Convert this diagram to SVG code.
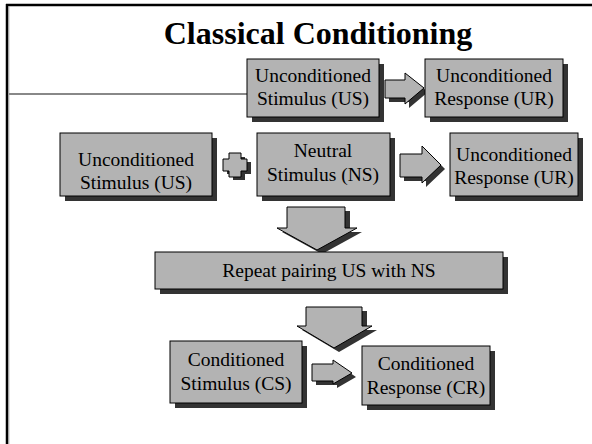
<svg xmlns="http://www.w3.org/2000/svg" width="592" height="444" viewBox="0 0 592 444">
<defs>
<style>
.box{fill:#b3b3b3;stroke:#000;stroke-width:1}
.sh{fill:#333}
.t{font-family:"Liberation Serif","Times New Roman",serif;font-size:19.5px;fill:#000;text-anchor:middle}
.title{font-family:"Liberation Serif","Times New Roman",serif;font-size:32px;font-weight:bold;fill:#000;text-anchor:middle}
</style>
</defs>
<rect width="592" height="444" fill="#fff"/>
<g id="frame">
<line x1="6" y1="5" x2="592" y2="5" stroke="#000" stroke-width="2.5"/>
<line x1="7" y1="4" x2="7" y2="444" stroke="#000" stroke-width="2.5"/>
<line x1="8.8" y1="6.5" x2="8.8" y2="444" stroke="#999" stroke-width="1"/>
<line x1="9" y1="94" x2="247" y2="94" stroke="#888" stroke-width="2"/>
</g>
<text class="title" x="318" y="44">Classical Conditioning</text>
<g id="connectors">
<g id="arrow-top">
<polygon class="sh" points="389,84 409,84 409,77 428,92 409,108 409,102 389,102"/>
<polygon class="box" points="385,80 405,80 405,73 424,88 405,104 405,98 385,98"/>
</g>
<g id="plus">
<polygon class="sh" points="233,157 245,157 245,162 251,162 251,174 245,174 245,180 233,180 233,174 227,174 227,162 233,162"/>
<polygon class="box" points="229,153 241,153 241,159 247,159 247,171 241,171 241,177 229,177 229,171 223,171 223,159 229,159"/>
</g>
<g id="arrow-row2">
<polygon class="sh" points="404,158 426,158 426,150 445,169 426,187 426,181 404,181"/>
<polygon class="box" points="400,154 422,154 422,146 441,165 422,183 422,177 400,177"/>
</g>
<g id="arrow-down1">
<polygon class="sh" points="292,211 350,211 350,232 362,232 322,254 282,232 292,232"/>
<polygon class="box" points="287,207 345,207 345,228 357,228 317,250 277,228 287,228"/>
</g>
<g id="arrow-down2">
<polygon class="sh" points="311,311 367,311 367,330 377,330 339,352 302,330 311,330"/>
<polygon class="box" points="306,307 362,307 362,326 372,326 334,348 297,326 306,326"/>
</g>
<g id="arrow-bottom">
<polygon class="sh" points="316,368 337,368 337,364 356,377 337,388 337,385 316,385"/>
<polygon class="box" points="312,364 333,364 333,360 352,373 333,384 333,381 312,381"/>
</g>
</g>
<g id="us-top">
<rect class="sh" x="252" y="64" width="132" height="58"/>
<rect class="box" x="247" y="59" width="132" height="58"/>
<text class="t" x="313" y="82">Unconditioned</text>
<text class="t" x="313" y="105">Stimulus (US)</text>
</g>
<g id="ur-top">
<rect class="sh" x="430" y="64" width="138" height="58"/>
<rect class="box" x="425" y="59" width="138" height="58"/>
<text class="t" x="494" y="82">Unconditioned</text>
<text class="t" x="494" y="105">Response (UR)</text>
</g>
<g id="us">
<rect class="sh" x="65" y="138" width="152" height="63"/>
<rect class="box" x="60" y="133" width="152" height="63"/>
<text class="t" x="136" y="166">Unconditioned</text>
<text class="t" x="136" y="189">Stimulus (US)</text>
</g>
<g id="ns">
<rect class="sh" x="262" y="138" width="133" height="63"/>
<rect class="box" x="257" y="133" width="133" height="63"/>
<text class="t" x="323" y="157">Neutral</text>
<text class="t" x="323" y="181">Stimulus (NS)</text>
</g>
<g id="ur">
<rect class="sh" x="455" y="138" width="128" height="63"/>
<rect class="box" x="450" y="133" width="128" height="63"/>
<text class="t" x="514" y="161">Unconditioned</text>
<text class="t" x="514" y="184">Response (UR)</text>
</g>
<g id="repeat">
<rect class="sh" x="160" y="257" width="348" height="37"/>
<rect class="box" x="155" y="252" width="348" height="37"/>
<text class="t" x="329" y="277">Repeat pairing US with NS</text>
</g>
<g id="cs">
<rect class="sh" x="175" y="346" width="132" height="62"/>
<rect class="box" x="170" y="341" width="132" height="62"/>
<text class="t" x="236" y="366">Conditioned</text>
<text class="t" x="236" y="390">Stimulus (CS)</text>
</g>
<g id="cr">
<rect class="sh" x="367" y="351" width="128" height="59"/>
<rect class="box" x="362" y="346" width="128" height="59"/>
<text class="t" x="426" y="370">Conditioned</text>
<text class="t" x="426" y="394">Response (CR)</text>
</g>
</svg>
